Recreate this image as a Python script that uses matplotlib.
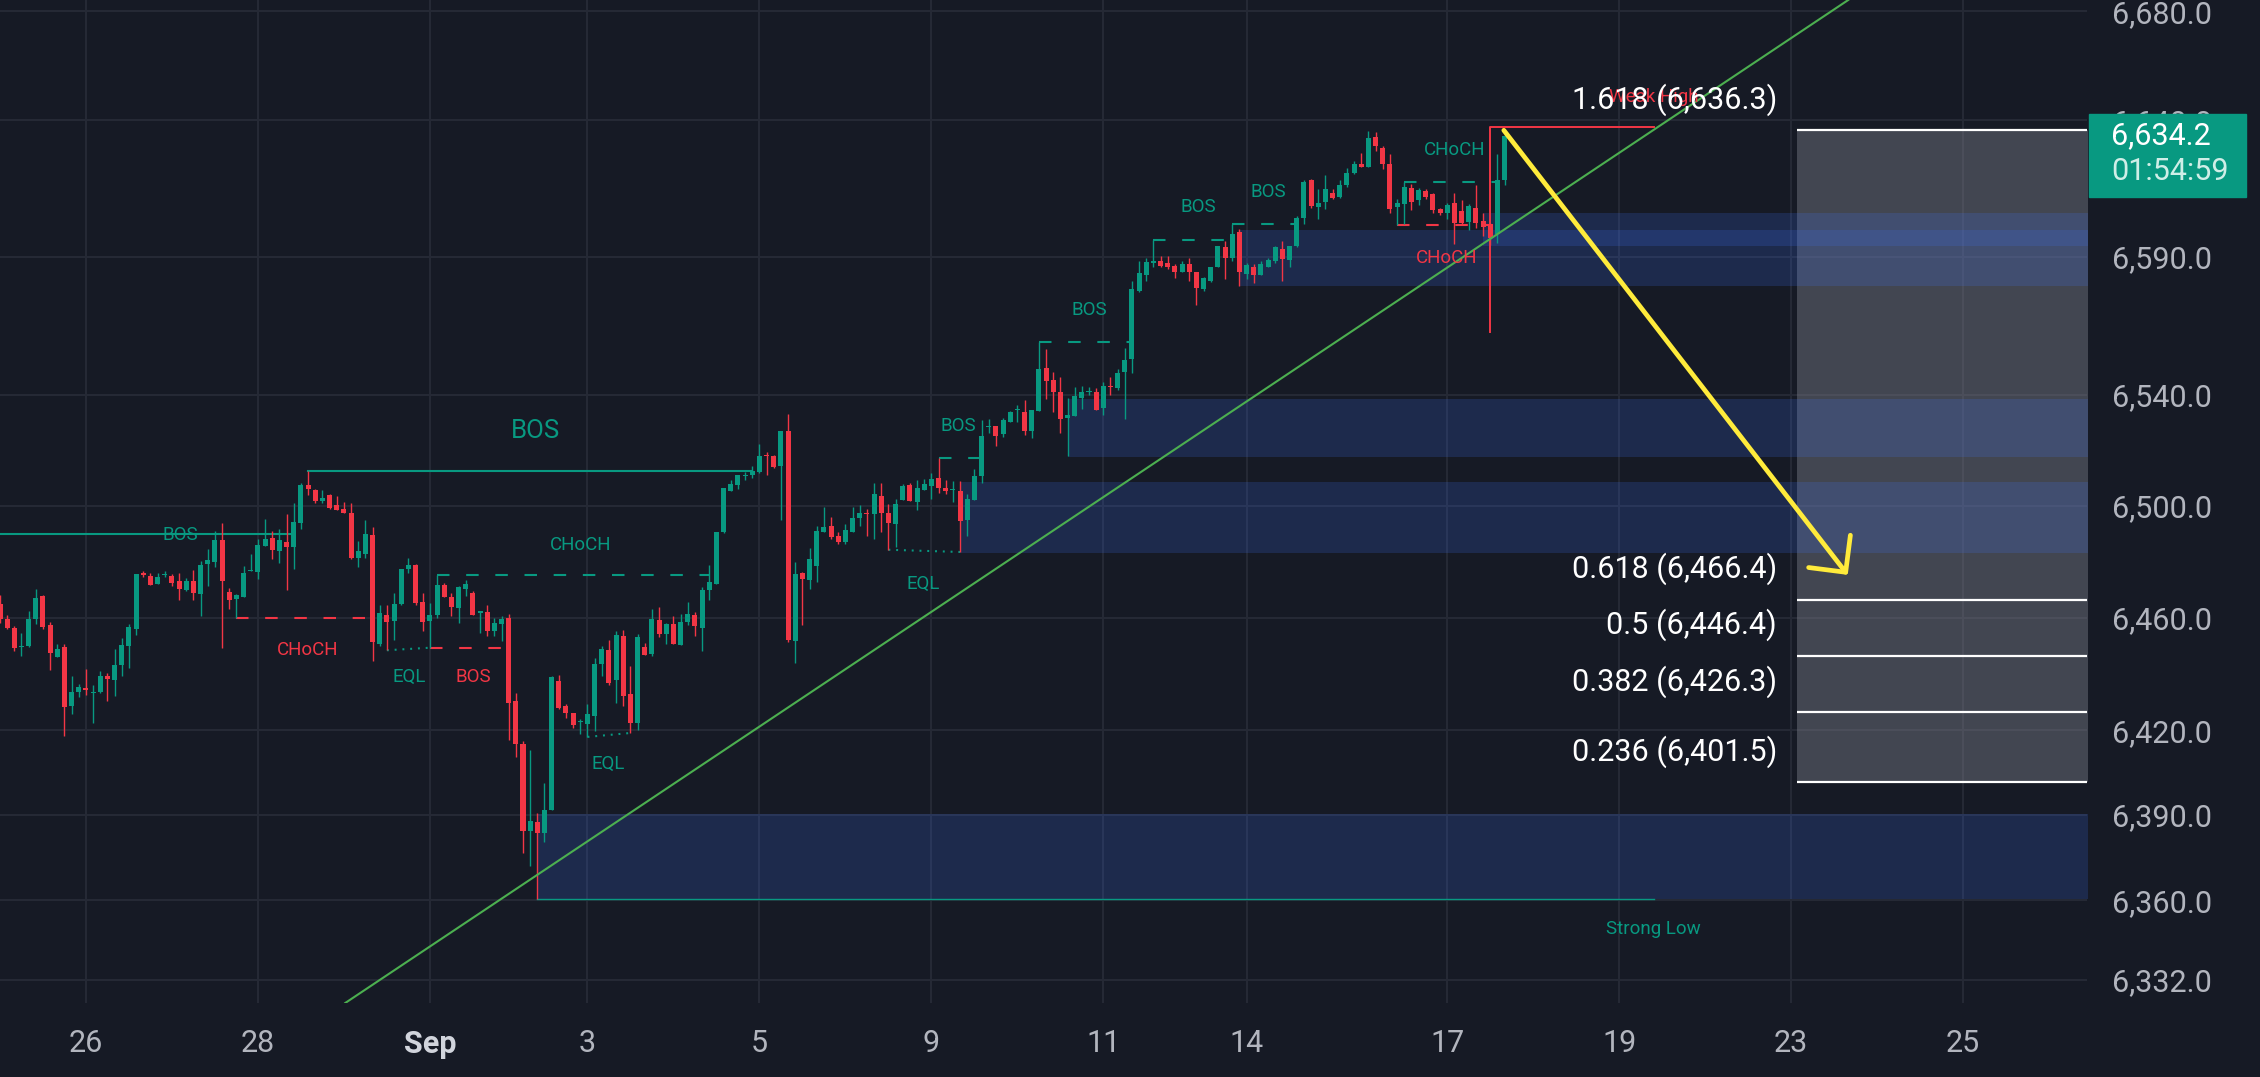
import matplotlib
matplotlib.use("Agg")
import matplotlib.pyplot as plt
from matplotlib.patches import FancyArrowPatch, Rectangle, ArrowStyle
from matplotlib.ticker import NullLocator, NullFormatter

plt.rcParams['font.family'] = ['Roboto', 'DejaVu Sans']
plt.rcParams['lines.scale_dashes'] = False

BG = '#161a25'
GRID = '#262a36'
UP = '#089981'
DOWN = '#f23645'
AXTXT = '#b2b5be'

# 2h candles, bar index 0..210
opens = [6465.0, 6459.4, 6456.4, 6449.5, 6450.0, 6459.5, 6467.8, 6457.4, 6445.9, 6449.6,
         6428.4, 6433.5, 6434.8, 6433.3, 6433.4, 6439.3, 6437.7, 6443.3, 6449.9, 6456.1,
         6475.8, 6475.0, 6472.2, 6475.2, 6475.0, 6473.0, 6469.9, 6473.0, 6468.6, 6479.1,
         6479.9, 6487.7, 6469.3, 6466.6, 6467.5, 6476.7, 6476.4, 6485.7, 6488.4, 6483.9,
         6487.1, 6485.3, 6494.0, 6507.6, 6505.6, 6501.8, 6503.9, 6500.2, 6499.0, 6497.6,
         6481.4, 6482.7, 6489.7, 6450.7, 6461.1, 6459.0, 6464.8, 6477.5, 6478.7, 6465.6,
         6458.8, 6461.0, 6471.6, 6467.4, 6463.6, 6470.3, 6468.7, 6461.6, 6462.2, 6455.2,
         6457.7, 6460.0, 6430.4, 6415.2, 6384.4, 6387.6, 6383.8, 6391.8, 6437.5, 6428.6,
         6426.0, 6422.9, 6422.1, 6425.0, 6443.5, 6448.6, 6437.7, 6453.3, 6432.7, 6422.6,
         6449.4, 6447.0, 6459.2, 6454.2, 6457.7, 6450.2, 6458.3, 6461.0, 6456.4, 6469.9,
         6472.0, 6490.7, 6505.4, 6507.7, 6510.7, 6511.0, 6512.1, 6518.3, 6518.1, 6514.5,
         6527.0, 6451.8, 6475.8, 6473.5, 6478.6, 6490.8, 6492.9, 6489.3, 6487.1, 6490.5,
         6495.6, 6497.4, 6497.0, 6503.6, 6497.4, 6493.7, 6502.2, 6507.5, 6501.4, 6505.8,
         6507.2, 6510.2, 6506.4, 6505.6, 6505.2, 6494.8, 6502.2, 6510.6, 6528.3, 6528.6,
         6525.9, 6530.4, 6534.6, 6533.7, 6527.1, 6534.3, 6549.6, 6545.4, 6541.0, 6531.6,
         6532.5, 6538.8, 6541.1, 6541.0, 6535.3, 6543.4, 6542.4, 6548.4, 6553.0, 6577.5,
         6583.4, 6588.0, 6588.6, 6588.0, 6586.8, 6584.6, 6587.4, 6584.4, 6578.4, 6581.4,
         6586.2, 6593.6, 6589.8, 6599.1, 6583.8, 6586.4, 6583.6, 6586.4, 6588.6, 6593.0,
         6589.0, 6594.0, 6604.4, 6618.0, 6608.4, 6610.0, 6613.5, 6612.0, 6616.2, 6620.5,
         6623.8, 6623.0, 6633.9, 6629.9, 6623.8, 6608.4, 6609.2, 6615.3, 6610.8, 6614.1,
         6612.9, 6607.4, 6605.9, 6609.6, 6606.8, 6602.7, 6608.0, 6603.1, 6601.9, 6598.3,
         6618.0]
highs = [6468.0, 6461.0, 6457.0, 6454.6, 6462.3, 6470.1, 6468.0, 6458.6, 6450.7, 6450.7,
         6439.3, 6436.4, 6441.7, 6436.2, 6440.9, 6440.3, 6448.7, 6452.6, 6457.6, 6475.5,
         6476.7, 6476.1, 6476.1, 6476.7, 6475.5, 6475.8, 6474.3, 6477.0, 6480.3, 6484.5,
         6491.0, 6493.8, 6470.5, 6468.6, 6478.5, 6482.7, 6488.3, 6495.5, 6491.0, 6491.9,
         6497.0, 6501.0, 6508.1, 6512.4, 6506.2, 6505.6, 6504.4, 6503.6, 6501.4, 6501.0,
         6487.5, 6494.9, 6492.6, 6464.5, 6464.5, 6469.0, 6477.3, 6481.3, 6479.1, 6468.7,
         6465.4, 6475.3, 6472.3, 6468.7, 6471.3, 6473.5, 6469.6, 6462.4, 6464.5, 6459.9,
         6460.6, 6461.2, 6433.3, 6416.1, 6412.8, 6390.8, 6401.2, 6439.3, 6439.5, 6429.2,
         6426.2, 6423.8, 6429.2, 6445.5, 6450.0, 6452.1, 6455.1, 6455.7, 6442.9, 6454.2,
         6451.0, 6463.1, 6464.0, 6458.1, 6460.5, 6461.3, 6465.5, 6462.1, 6471.0, 6478.8,
         6490.7, 6506.5, 6509.2, 6511.3, 6512.1, 6514.3, 6522.3, 6519.3, 6518.5, 6527.0,
         6533.0, 6479.8, 6476.5, 6485.1, 6492.9, 6499.6, 6496.1, 6490.5, 6493.5, 6499.6,
         6500.2, 6498.8, 6508.1, 6508.3, 6500.6, 6502.4, 6507.8, 6508.2, 6509.4, 6509.6,
         6511.8, 6517.1, 6509.3, 6509.0, 6508.8, 6504.2, 6513.3, 6531.1, 6531.3, 6528.9,
         6531.6, 6534.3, 6536.4, 6538.3, 6534.6, 6559.3, 6556.6, 6548.4, 6546.4, 6538.8,
         6542.8, 6543.1, 6542.8, 6542.4, 6544.8, 6546.4, 6549.2, 6556.9, 6581.4, 6588.6,
         6589.8, 6596.1, 6590.4, 6590.4, 6587.4, 6588.6, 6589.8, 6584.4, 6582.6, 6586.5,
         6594.2, 6595.8, 6601.9, 6600.1, 6587.7, 6587.4, 6588.6, 6589.8, 6594.2, 6595.8,
         6594.0, 6605.0, 6618.1, 6618.3, 6614.7, 6619.8, 6614.7, 6618.1, 6622.6, 6625.0,
         6628.1, 6636.0, 6635.6, 6630.5, 6627.5, 6611.0, 6617.4, 6616.5, 6615.3, 6614.9,
         6613.2, 6608.0, 6609.8, 6613.5, 6610.8, 6609.2, 6616.2, 6606.1, 6602.5, 6627.5,
         6636.3]
lows = [6458.0, 6456.0, 6448.0, 6446.3, 6449.5, 6457.6, 6456.0, 6441.3, 6445.9, 6418.1,
        6425.7, 6431.7, 6432.5, 6422.4, 6433.3, 6430.5, 6432.0, 6439.3, 6442.0, 6453.8,
        6474.7, 6471.7, 6472.0, 6474.5, 6471.3, 6466.3, 6469.6, 6466.3, 6460.6, 6471.3,
        6478.3, 6449.3, 6463.0, 6459.8, 6467.5, 6476.7, 6474.0, 6485.7, 6480.9, 6479.7,
        6469.9, 6477.3, 6491.6, 6503.8, 6501.0, 6501.2, 6498.8, 6498.6, 6497.4, 6480.9,
        6478.1, 6481.5, 6444.5, 6449.9, 6448.4, 6452.2, 6464.5, 6475.9, 6464.7, 6455.2,
        6449.3, 6459.9, 6467.4, 6460.6, 6458.2, 6467.8, 6461.0, 6454.6, 6453.4, 6453.4,
        6451.6, 6416.4, 6410.6, 6376.5, 6372.0, 6360.4, 6380.3, 6391.8, 6427.4, 6424.4,
        6420.8, 6418.5, 6417.6, 6419.6, 6439.3, 6436.0, 6429.5, 6428.6, 6419.0, 6420.0,
        6446.7, 6446.4, 6453.0, 6450.6, 6450.6, 6450.2, 6457.4, 6453.6, 6448.2, 6466.3,
        6472.0, 6490.2, 6505.4, 6506.2, 6509.3, 6510.1, 6511.9, 6511.3, 6513.5, 6495.0,
        6451.2, 6444.0, 6457.4, 6470.2, 6472.6, 6490.5, 6488.1, 6486.3, 6486.3, 6490.5,
        6492.9, 6489.3, 6488.1, 6490.7, 6484.3, 6485.4, 6502.2, 6501.8, 6498.6, 6505.8,
        6502.4, 6504.8, 6504.4, 6501.4, 6483.5, 6489.3, 6502.2, 6508.2, 6526.3, 6521.7,
        6524.7, 6530.1, 6530.4, 6525.5, 6524.3, 6534.3, 6538.6, 6533.7, 6526.1, 6518.1,
        6532.3, 6534.9, 6539.8, 6534.7, 6532.8, 6539.8, 6541.9, 6531.3, 6548.0, 6577.2,
        6581.4, 6586.5, 6586.2, 6585.6, 6582.4, 6584.4, 6581.4, 6572.5, 6577.8, 6581.0,
        6586.2, 6582.0, 6588.6, 6579.5, 6582.0, 6580.6, 6583.6, 6586.4, 6588.0, 6581.2,
        6586.2, 6593.6, 6601.9, 6608.0, 6604.0, 6607.4, 6611.3, 6611.7, 6615.7, 6620.2,
        6623.0, 6623.0, 6628.7, 6622.2, 6606.2, 6601.6, 6601.9, 6607.2, 6608.9, 6611.1,
        6606.2, 6605.2, 6603.7, 6594.6, 6601.9, 6599.8, 6600.7, 6597.5, 6594.5, 6595.2,
        6616.2]
closes = [6459.4, 6456.4, 6449.2, 6450.0, 6459.6, 6467.2, 6456.7, 6447.5, 6448.9, 6428.1,
          6433.5, 6435.2, 6434.1, 6433.6, 6439.3, 6438.1, 6443.3, 6450.4, 6456.7, 6475.5,
          6475.1, 6471.7, 6474.7, 6475.5, 6472.4, 6470.1, 6473.0, 6469.0, 6478.7, 6480.5,
          6487.8, 6473.1, 6466.3, 6468.1, 6476.1, 6477.0, 6485.9, 6488.1, 6484.1, 6487.7,
          6485.4, 6494.3, 6507.4, 6506.0, 6501.7, 6503.0, 6499.4, 6498.6, 6497.6, 6481.5,
          6483.9, 6490.1, 6451.3, 6461.6, 6458.4, 6464.9, 6477.3, 6478.7, 6465.1, 6458.4,
          6460.8, 6471.8, 6467.4, 6463.8, 6470.9, 6471.9, 6461.0, 6462.4, 6455.2, 6458.1,
          6459.6, 6429.8, 6415.2, 6384.4, 6387.9, 6383.8, 6391.8, 6438.9, 6428.0, 6426.2,
          6422.0, 6423.2, 6425.6, 6443.5, 6449.0, 6436.7, 6453.8, 6432.1, 6422.6, 6453.0,
          6446.7, 6459.5, 6454.2, 6457.7, 6450.6, 6458.6, 6461.3, 6457.1, 6469.9, 6472.9,
          6490.7, 6506.5, 6508.0, 6511.0, 6511.0, 6512.7, 6517.9, 6517.9, 6514.0, 6527.0,
          6452.1, 6475.6, 6474.0, 6481.0, 6491.1, 6492.5, 6489.0, 6486.9, 6491.4, 6495.6,
          6497.4, 6497.1, 6504.2, 6497.4, 6493.8, 6500.6, 6507.2, 6501.8, 6506.3, 6507.8,
          6509.6, 6506.4, 6505.4, 6506.0, 6494.5, 6502.4, 6510.8, 6525.1, 6528.7, 6525.3,
          6531.1, 6534.0, 6534.9, 6527.1, 6534.6, 6549.4, 6544.9, 6541.2, 6531.3, 6532.8,
          6539.5, 6541.0, 6541.4, 6534.7, 6543.1, 6542.8, 6548.0, 6552.8, 6578.4, 6584.2,
          6588.2, 6588.4, 6586.8, 6586.5, 6584.4, 6587.4, 6584.4, 6578.8, 6582.2, 6586.2,
          6594.0, 6589.8, 6598.3, 6584.4, 6587.0, 6583.6, 6587.4, 6588.8, 6593.6, 6589.2,
          6594.0, 6604.4, 6617.4, 6608.6, 6609.8, 6614.7, 6611.7, 6616.2, 6620.5, 6623.8,
          6623.0, 6633.6, 6630.5, 6623.8, 6607.6, 6609.8, 6615.7, 6610.1, 6614.5, 6612.0,
          6607.2, 6605.9, 6608.9, 6602.5, 6602.5, 6608.6, 6602.5, 6601.0, 6597.0, 6618.0,
          6634.2]

date_ticks = [12, 36, 60, 82, 106, 130, 154, 174, 202, 226, 250, 274]
date_labels = ['26', '28', 'Sep', '3', '5', '9', '11', '14', '17', '19', '23', '25']
price_ticks = [6332, 6360, 6390, 6420, 6460, 6500, 6540, 6590, 6640, 6680]

# market structure lines (bar from, bar to, level from, level to)
struct_kind = ['swing', 'swing', 'CHoCH', 'CHoCH', 'EQL', 'BOS', 'EQL', 'EQL',
               'BOS', 'BOS', 'BOS', 'BOS', 'CHoCH', 'CHoCH']
struct_bull = [True, True, True, False, True, False, True, True,
               True, True, True, True, True, False]
struct_x0 = [-8, 43, 61, 33, 54, 60, 82, 124, 131, 145, 161, 172, 196, 195]
struct_x1 = [41, 105, 99, 51, 60, 71, 88, 134, 137, 158, 172, 181, 209, 208]
struct_y0 = [6489.9, 6512.4, 6475.3, 6459.8, 6448.4, 6449.3, 6417.6, 6484.3,
             6517.1, 6559.3, 6596.1, 6601.9, 6617.4, 6601.6]
struct_y1 = [6489.9, 6512.4, 6475.3, 6459.8, 6449.3, 6449.3, 6419.0, 6483.5,
             6517.1, 6559.3, 6596.1, 6601.9, 6617.4, 6601.6]

label_text = ['BOS', 'BOS', 'CHoCH', 'CHoCH', 'EQL', 'BOS', 'EQL', 'EQL', 'BOS',
              'BOS', 'BOS', 'BOS', 'CHoCH', 'CHoCH', 'Weak High', 'Strong Low']
label_bull = [True, True, True, False, True, False, True, True, True,
              True, True, True, True, False, False, True]
label_x = [25.1, 74.8, 81.0, 43.0, 57.1, 66.0, 84.9, 128.9, 133.7,
           152.0, 167.3, 177.0, 203.1, 201.9, 230.8, 230.8]
label_y = [6489.5, 6527.0, 6486.1, 6448.5, 6438.8, 6438.8, 6408.1, 6472.2, 6528.6,
           6570.8, 6608.1, 6613.8, 6629.1, 6589.7, 6648.5, 6349.7]

# order block zones
zone_start = [75, 134, 149, 173, 207]
zone_top = [6390.4, 6508.6, 6538.5, 6600.0, 6606.1]
zone_bottom = [6360.4, 6483.0, 6517.6, 6579.5, 6594.1]

strong_low = (75, 6360.4)
weak_high = (208, 6637.5, 6562.9)
extreme_end = 230.8

# trend line anchors, fib levels, projection arrow
trend_a = (75, 6368.9)
trend_b = (208, 6596.6)
fib_ratios = [1.618, 0.618, 0.5, 0.382, 0.236]
fib_prices = [6636.3, 6466.4, 6446.4, 6426.3, 6401.5]
fib_start = 250.8
fib_label_x = 248.0
arrow_from = (209.9, 6636.3)
arrow_to = (257.9, 6475.3)

XMAX = 291.3
fig = plt.figure(figsize=(22.6, 10.77), dpi=100, facecolor=BG)
ax = fig.add_axes([0, 1 - 1003 / 1077, 2087 / 2260, 1003 / 1077])
ax.set_facecolor(BG)
ax.set_yscale('log')
for s in ax.spines.values():
    s.set_visible(False)

# zones and fib box
ax.fill_between([fib_start, XMAX + 5], min(fib_prices), max(fib_prices),
                color='#787b86', alpha=0.46, lw=0, zorder=1.2)
for s0, t, b in zip(zone_start, zone_top, zone_bottom):
    ax.fill_between([s0, XMAX + 5], b, t, color='#3e6fed', alpha=0.2, lw=0, zorder=1.5)
ax.hlines(fib_prices, fib_start, XMAX + 5, colors='white', lw=1.6, zorder=2)
for r, p in zip(fib_ratios, fib_prices):
    ax.annotate(f"{r} ({p:,.1f})", xy=(fib_label_x, p), xytext=(0, 31),
                textcoords='offset pixels', ha='right', va='center',
                color='white', fontsize=22, zorder=8)

# structure
for k, bull, a0, a1, b0, b1 in zip(struct_kind, struct_bull, struct_x0, struct_x1,
                                   struct_y0, struct_y1):
    col = UP if bull else DOWN
    if k == 'swing':
        ls = '-'
    elif k == 'EQL':
        ls = (0, (1.4, 4.2))
    else:
        ls = (0, (9, 12))
    ax.plot([a0, a1], [b0, b1], color=col, lw=1.5, ls=ls, zorder=3)

ax.plot([strong_low[0], extreme_end], [strong_low[1]] * 2, color=UP, lw=1.0, zorder=3)
ax.plot([weak_high[0], weak_high[0], extreme_end],
        [weak_high[2], weak_high[1], weak_high[1]], color=DOWN, lw=1.4, zorder=5)

for i, (t, bull, lx, ly) in enumerate(zip(label_text, label_bull, label_x, label_y)):
    ax.text(lx, ly, t, color=UP if bull else DOWN, fontsize=18.5 if i == 1 else 13.5,
            ha='center', va='center', zorder=6)

# candles
xs = list(range(len(closes)))
cols = [UP if c >= o else DOWN for o, c in zip(opens, closes)]
ax.vlines(xs, lows, highs, colors=cols, lw=1.0, zorder=4)
ax.bar(xs, [max(abs(c - o), 0.4) for o, c in zip(opens, closes)],
       bottom=[min(o, c) for o, c in zip(opens, closes)],
       width=0.7, color=cols, lw=0, zorder=4)

ax.axline(trend_a, trend_b, color='#4caf50', lw=1.5, zorder=5)

arr = FancyArrowPatch(arrow_from, arrow_to,
                      arrowstyle=ArrowStyle('->', head_length=19, head_width=19),
                      mutation_scale=1, color='#ffeb3b', lw=3.4,
                      shrinkA=0, shrinkB=0, capstyle='round', zorder=9)
ax.add_patch(arr)

# axes
ax.set_xlim(0, XMAX)
ax.set_ylim(6323.96, 6684.24)
ax.yaxis.tick_right()
ax.set_yticks(price_ticks)
ax.set_yticklabels([f"{v:,.1f}" for v in price_ticks])
ax.yaxis.set_minor_locator(NullLocator())
ax.yaxis.set_minor_formatter(NullFormatter())
ax.set_xticks(date_ticks)
ax.set_xticklabels(date_labels)
ax.tick_params(axis='y', length=0, pad=18, labelsize=22, labelcolor=AXTXT)
ax.tick_params(axis='x', length=0, pad=19, labelsize=22, labelcolor=AXTXT)
for lab in ax.get_xticklabels():
    if lab.get_text() == 'Sep':
        lab.set_color('#d1d4dc')
        lab.set_fontweight('bold')
ax.grid(True, color=GRID, lw=1.4)
ax.set_axisbelow(True)

# last price tag
fig.add_artist(Rectangle((2089 / 2260, 1 - 197 / 1077), 157 / 2260, 83 / 1077,
                         transform=fig.transFigure, color=UP, zorder=5))
fig.text(2111 / 2260, 1 - 136 / 1077, f"{closes[-1]:,.1f}", color='white',
         fontsize=22, va='center', ha='left', zorder=6)
fig.text(2111 / 2260, 1 - 172 / 1077, "01:54:59", color='#cfeee7',
         fontsize=22, va='center', ha='left', zorder=6)

fig.savefig('out.png', dpi=100, facecolor=BG)
